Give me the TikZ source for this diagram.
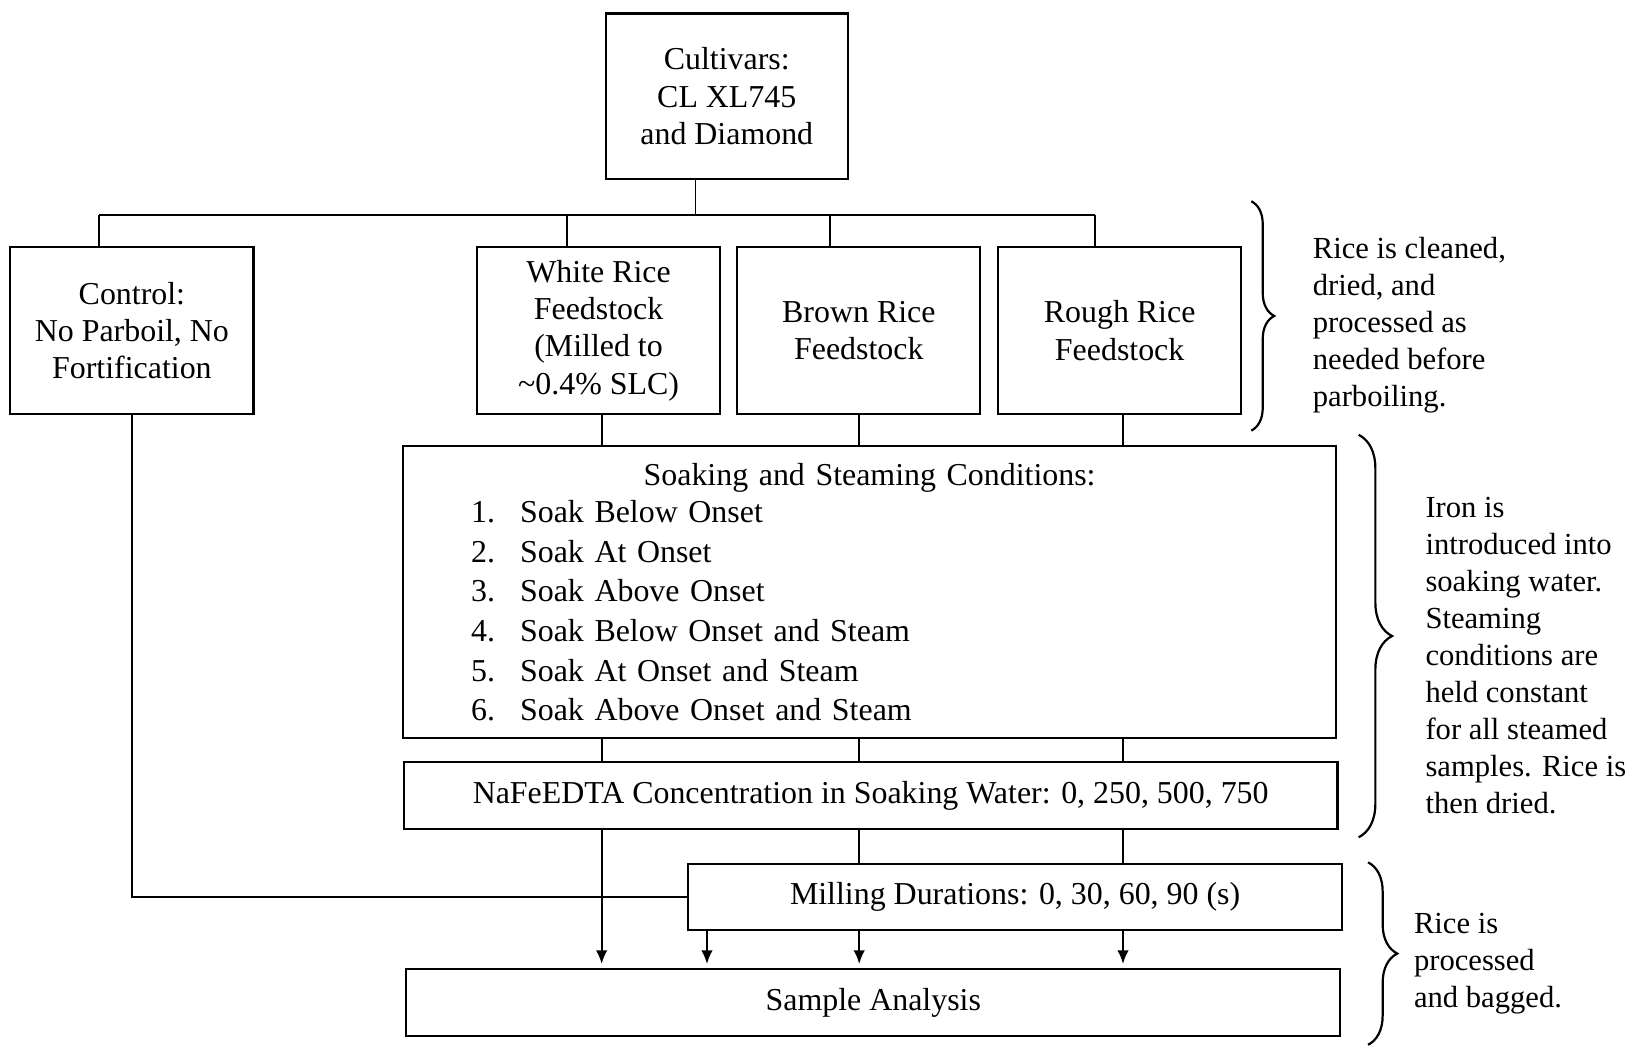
\documentclass[tikz,border=0pt]{standalone}
\usepackage{fontspec}
\setmainfont{Liberation Serif}
\usepackage{tikz}
\usetikzlibrary{arrows.meta,calc,decorations.pathreplacing,positioning,shapes}
\tikzset{%
	block/.style    = {draw, rectangle, line width=0.6pt, align=center, inner sep=0pt}, % Box
	feed/.style     = {block, minimum width=2.33cm, minimum height=1.6cm}, % Feedstock
	wide/.style     = {block, minimum width=8.95cm, minimum height=0.64cm}, % Wide step
	note/.style     = {align=left, inner sep=0pt, anchor=west, font=\fontsize{8.35}{10.1}\selectfont}, % Side text
	brace/.style    = {decorate, decoration={brace, amplitude=#1}, line width=0.6pt}, % Brace
	arrow/.style    = {-{Latex[length=1.3mm, width=1.1mm]}, shorten >=0.4mm},
	waypoint/.style = {coordinate},
}

\begin{document}
\begin{tikzpicture}[x=0.01cm, y=-0.01cm, line width=0.5pt, font=\fontsize{8.7}{10.2}\selectfont]
	\useasboundingbox (0,0) rectangle (1568,1004);
	\node[block, minimum width=2.32cm, minimum height=1.59cm] (cult) at (697,92.5) {Cultivars:\\CL XL745\\and Diamond};
	\node[feed] (ctrl) at (126.5,317) {Control:\\No Parboil, No\\Fortification};
	\node[feed] (white) at (574,317) {White Rice\\Feedstock\\(Milled to\\\textasciitilde0.4\% SLC)};
	\node[feed, right of=white, node distance=2.495cm] (brown) {Brown Rice\\Feedstock};
	\node[feed, right of=brown, node distance=2.5cm] (rough) {Rough Rice\\Feedstock};
	\node[block, text width=8.94cm, minimum height=2.8cm, align=left] (soak) at (834,568) {%
		\makebox[8.94cm][c]{Soaking and Steaming Conditions:}\\
		\hspace*{6.5mm}\makebox[4.7mm][l]{1.}Soak Below Onset\\[0.6pt]
		\hspace*{6.5mm}\makebox[4.7mm][l]{2.}Soak At Onset\\[0.6pt]
		\hspace*{6.5mm}\makebox[4.7mm][l]{3.}Soak Above Onset\\[0.6pt]
		\hspace*{6.5mm}\makebox[4.7mm][l]{4.}Soak Below Onset and Steam\\[0.6pt]
		\hspace*{6.5mm}\makebox[4.7mm][l]{5.}Soak At Onset and Steam\\[0.6pt]
		\hspace*{6.5mm}\makebox[4.7mm][l]{6.}Soak Above Onset and Steam};
	\node[wide] (nafe) at (835,763) {NaFeEDTA Concentration in Soaking Water: 0, 250, 500, 750};
	\node[block, minimum width=6.27cm, minimum height=0.63cm] (mill) at (973.5,860.5) {Milling Durations: 0, 30, 60, 90 (s)};
	\node[wide] (sample) at (837.5,961.5) {Sample Analysis};
	\node[waypoint] (dT) at (667,206) {};
	\node[waypoint] (dC) at (95,206) {};
	\node[waypoint] (dW) at (544,206) {};
	\node[waypoint] (dB) at (796,206) {};
	\node[waypoint] (dR) at (1050,206) {};
	\node[waypoint] (sW) at (577,428) {};
	\node[waypoint] (sB) at (824,428) {};
	\node[waypoint] (sR) at (1077,428) {};
	\node[waypoint] (mM) at (678,892) {};
	
	\draw (dT |- cult.south) -- (dT);
	\draw (dC) -- (dR);
	\draw (dC) -- (dC |- ctrl.north);
	\draw (dW) -- (dW |- white.north);
	\draw (dB) -- (dB |- brown.north);
	\draw (dR) -- (dR |- rough.north);
	\draw (sW |- white.south) -- (sW);
	\draw (sB |- brown.south) -- (sB);
	\draw (sR |- rough.south) -- (sR);
	\draw (sW |- soak.south) -- (sW |- nafe.north);
	\draw (sB |- soak.south) -- (sB |- nafe.north);
	\draw (sR |- soak.south) -- (sR |- nafe.north);
	\draw[arrow] (sW |- nafe.south) -- (sW |- sample.north);
	\draw (sB |- nafe.south) -- (sB |- mill.north);
	\draw (sR |- nafe.south) -- (sR |- mill.north);
	\draw (ctrl.south) |- (mill.west);
	\draw[arrow] (mM |- mill.south) -- (mM |- sample.north);
	\draw[arrow] (sB |- mill.south) -- (sB |- sample.north);
	\draw[arrow] (sR |- mill.south) -- (sR |- sample.north);
	\draw[brace=2.2mm] (1200,193) -- (1200,413) node[note, midway, xshift=5.8mm, yshift=-0.85mm] {Rice is cleaned,\\dried, and\\processed as\\needed before\\parboiling.};
	\draw[brace=3.2mm] (1303,417) -- (1303,803) node[note, midway, xshift=6.3mm, yshift=-1.9mm] {Iron is\\introduced into\\soaking water.\\Steaming\\conditions are\\held constant\\for all steamed\\samples. Rice is\\then dried.};
	\draw[brace=2.8mm] (1312,827) -- (1312,1002) node[note, midway, xshift=4.3mm, yshift=-0.95mm] {Rice is\\processed\\and bagged.};
\end{tikzpicture}
\end{document}
